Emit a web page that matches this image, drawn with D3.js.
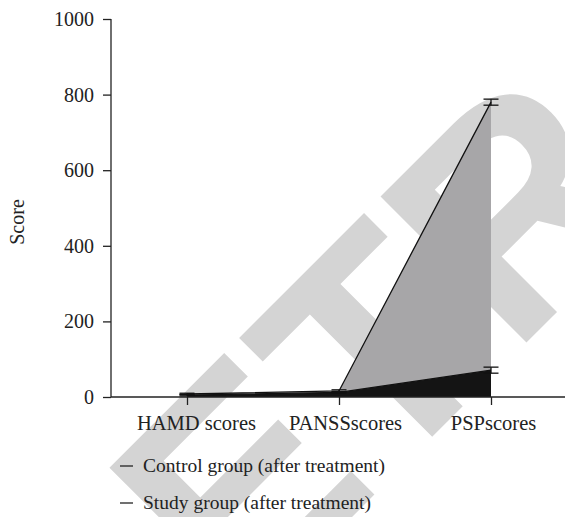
<!DOCTYPE html>
<html><head><meta charset="utf-8">
<script src="https://cdn.jsdelivr.net/npm/d3@7"></script>
<style>body{margin:0;background:#fff}svg{display:block}text{font-family:"Liberation Serif","Times New Roman",serif;fill:#222}</style>
</head><body>
<svg id="c" width="565" height="517"></svg>
<script>
const categories = ["HAMD scores", "PANSSscores", "PSPscores"];
const controlValues = [8, 16, 780];
const controlErr = [2, 3, 8];
const studyValues = [5, 12, 71];
const studyErr = [2, 2, 8];
const yTicks = [0, 200, 400, 600, 800, 1000];
const seriesNames = ["Control group (after treatment)", "Study group (after treatment)"];
const yLabel = "Score";
const watermark = "RETRACTED";

const svg = d3.select("#c");
const x = d3.scalePoint().domain(categories).range([111, 567]).padding(0.5);
const y = d3.scaleLinear().domain([0, 1000]).range([397, 19]);

// watermark
svg.append("text").text(watermark)
  .attr("transform", "translate(88,781) rotate(-45)")
  .style("font-family", "'Liberation Sans',Arial,sans-serif")
  .style("font-weight", "bold")
  .style("font-size", "300px")
  .style("fill", "#d4d4d4");

const idx = d3.range(categories.length);
const area = v => d3.area().x(i => x(categories[i])).y0(y(0)).y1(i => y(v[i]));
svg.append("path").datum(idx).attr("d", area(controlValues)).attr("fill", "#a7a6a8");
svg.append("path").datum(idx).attr("d", area(studyValues)).attr("fill", "#141414");
const line = v => d3.line().x(i => x(categories[i])).y(i => y(v[i]));
svg.append("path").datum(idx).attr("d", line(controlValues)).attr("fill", "none").attr("stroke", "#111").attr("stroke-width", 1.3);
svg.append("path").datum(idx).attr("d", line(studyValues)).attr("fill", "none").attr("stroke", "#111").attr("stroke-width", 1.3);

function errBars(vals, errs) {
  idx.forEach(i => {
    const cx = x(categories[i]);
    const g = svg.append("g").attr("stroke", "#111").attr("stroke-width", 1.3);
    g.append("line").attr("x1", cx).attr("x2", cx).attr("y1", y(vals[i] - errs[i])).attr("y2", y(vals[i] + errs[i]));
    [vals[i] - errs[i], vals[i] + errs[i]].forEach(v => {
      g.append("line").attr("x1", cx - 7.5).attr("x2", cx + 7.5).attr("y1", y(v)).attr("y2", y(v));
    });
  });
}
errBars(controlValues, controlErr);
errBars(studyValues, studyErr);

// axes
const yAxis = svg.append("g").attr("transform", "translate(111,0)")
  .call(d3.axisLeft(y).tickValues(yTicks).tickSize(8).tickPadding(9).tickFormat(d3.format("d")));
const xAxis = svg.append("g").attr("transform", "translate(0,397)")
  .call(d3.axisBottom(x).tickSize(8).tickPadding(10));
[yAxis, xAxis].forEach(a => {
  a.attr("font-family", null);
  a.select(".domain").attr("stroke", "#222").attr("stroke-width", 1.3);
  a.selectAll(".tick line").attr("stroke", "#222").attr("stroke-width", 1.3);
  a.selectAll("text").style("font-family", "'Liberation Serif',serif").style("font-size", "20px").attr("fill", "#222");
});
const labelShift = [9, 6, 2];
xAxis.selectAll(".tick text").attr("dx", (d, i) => labelShift[i]).style("font-size", "20.5px");
xAxis.select(".domain").attr("d", "M111,0H565");
yAxis.select(".domain").attr("d", "M0,397V19");

svg.append("text").text(yLabel)
  .attr("transform", "translate(24,222) rotate(-90)")
  .attr("text-anchor", "middle").style("font-size", "20px");

// legend
seriesNames.forEach((n, i) => {
  const ly = 466 + i * 37;
  svg.append("line").attr("x1", 120).attr("x2", 133).attr("y1", ly).attr("y2", ly).attr("stroke", "#222").attr("stroke-width", 1.3);
  svg.append("text").text(n).attr("x", 143).attr("y", ly + 6).style("font-size", "19.5px");
});
</script>
</body></html>
